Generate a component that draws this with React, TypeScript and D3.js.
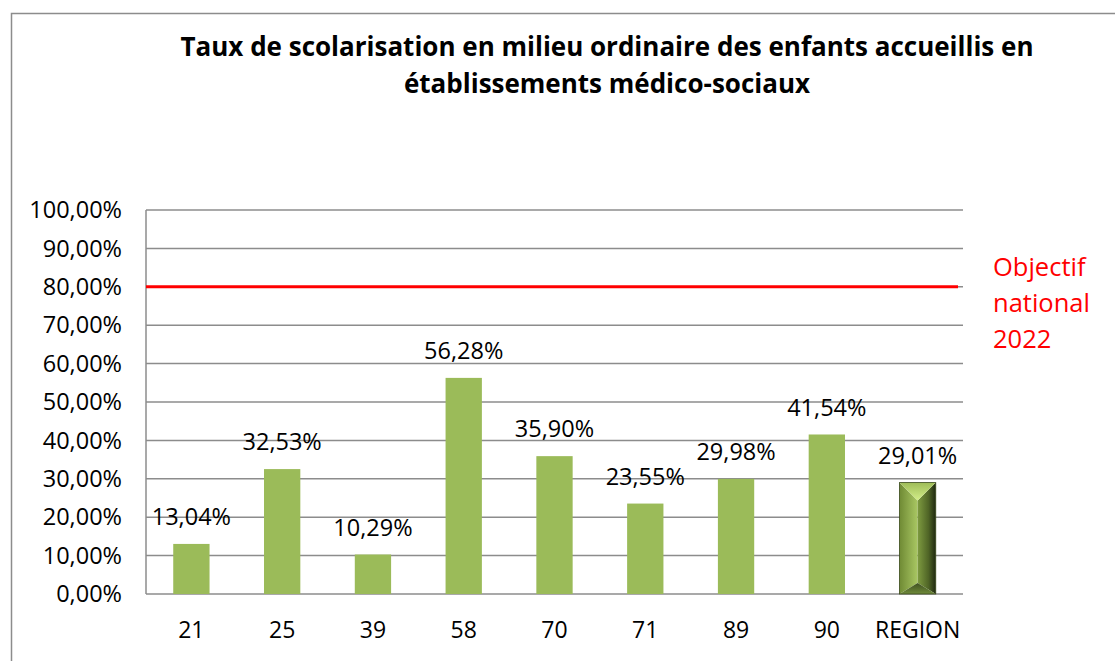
import React from "react";
import * as d3 from "d3";

const categories = ["21", "25", "39", "58", "70", "71", "89", "90", "REGION"];
const values = [0.1304, 0.3253, 0.1029, 0.5628, 0.359, 0.2355, 0.2998, 0.4154, 0.2901];
const yTicks = [0, 0.1, 0.2, 0.3, 0.4, 0.5, 0.6, 0.7, 0.8, 0.9, 1.0];
const objective = 0.8;
const titleLines = [
  "Taux de scolarisation en milieu ordinaire des enfants accueillis en",
  "établissements médico-sociaux",
];
const legendLines = ["Objectif", "national", "2022"];

const W = 1115;
const H = 661;
const FONT = "'Open Sans', 'Liberation Sans', sans-serif";

const fmt = (v: number) => (v * 100).toFixed(2).replace(".", ",") + "%";

export default function App() {
  const x = d3.scaleBand<string>().domain(categories).range([146, 963]).paddingInner(0).paddingOuter(0);
  const y = d3.scaleLinear().domain([0, 1]).range([594, 210]);
  const bw = x.bandwidth() * 0.4;

  return (
    <svg width={W} height={H} style={{ position: "absolute", left: 0, top: 0, background: "#fff" }}>
      <defs>
        <linearGradient id="lface" x1="0" x2="1" y1="0" y2="0">
          <stop offset="0" stopColor="#6f8a34" />
          <stop offset="1" stopColor="#a9c763" />
        </linearGradient>
        <linearGradient id="rface" x1="0" x2="1" y1="0" y2="0">
          <stop offset="0" stopColor="#7e9b40" />
          <stop offset="0.6" stopColor="#4f6426" />
          <stop offset="1" stopColor="#1f2810" />
        </linearGradient>
        <linearGradient id="tface" x1="0" x2="0" y1="0" y2="1">
          <stop offset="0" stopColor="#9fbd58" />
          <stop offset="1" stopColor="#d4ef8a" />
        </linearGradient>
        <linearGradient id="bface" x1="0" x2="0" y1="0" y2="1">
          <stop offset="0" stopColor="#3f5120" />
          <stop offset="1" stopColor="#6f8a3a" />
        </linearGradient>
      </defs>
      <rect x={11.5} y={13.5} width={1200} height={700} fill="#fff" stroke="#8c8c8c" strokeWidth={1.5} />

      {titleLines.map((t, i) => (
        <text
          key={i}
          x={607}
          y={56 + i * 37}
          textAnchor="middle"
          fontFamily={FONT}
          fontWeight="bold"
          fontSize={26}
          fill="#000"
        >
          {t}
        </text>
      ))}

      {/* gridlines */}
      {yTicks.map((t) => (
        <line key={t} x1={146} x2={963} y1={y(t)} y2={y(t)} stroke="#8c8c8c" strokeWidth={1.5} />
      ))}
      <line x1={146} x2={146} y1={y(1)} y2={y(0)} stroke="#8c8c8c" strokeWidth={1.5} />

      {/* y tick labels */}
      {yTicks.map((t) => (
        <text key={t} x={122} y={y(t)} dy="0.35em" textAnchor="end" fontFamily={FONT} fontSize={23.5} fill="#000">
          {fmt(t)}
        </text>
      ))}

      {/* bars */}
      {categories.map((c, i) => {
        const cx = (x(c) as number) + x.bandwidth() / 2;
        const x0 = cx - bw / 2;
        const x1 = cx + bw / 2;
        const top = y(values[i]);
        const bottom = y(0);
        if (c !== "REGION") {
          return <rect key={c} x={x0} y={top} width={bw} height={bottom - top} fill="#9bbb59" />;
        }
        const bt = 18;
        const bb = 11;
        return (
          <g key={c}>
            <polygon points={`${x0},${top} ${cx},${top + bt} ${cx},${bottom - bb} ${x0},${bottom}`} fill="url(#lface)" />
            <polygon points={`${x1},${top} ${cx},${top + bt} ${cx},${bottom - bb} ${x1},${bottom}`} fill="url(#rface)" />
            <polygon points={`${x0},${top} ${x1},${top} ${cx},${top + bt}`} fill="url(#tface)" />
            <polygon points={`${x0},${bottom} ${x1},${bottom} ${cx},${bottom - bb}`} fill="url(#bface)" />
            <rect x={x0} y={top} width={bw} height={bottom - top} fill="none" stroke="#3a4a1c" strokeWidth={0.8} />
          </g>
        );
      })}

      {/* objective line */}
      <line x1={146} x2={958} y1={y(objective)} y2={y(objective)} stroke="#ff0000" strokeWidth={3} />

      {/* data labels */}
      {categories.map((c, i) => (
        <text
          key={c}
          x={(x(c) as number) + x.bandwidth() / 2}
          y={y(values[i]) - 27}
          dy="0.35em"
          textAnchor="middle"
          fontFamily={FONT}
          fontSize={23.5}
          fill="#000"
        >
          {fmt(values[i])}
        </text>
      ))}

      {/* x labels */}
      {categories.map((c) => (
        <text
          key={c}
          x={(x(c) as number) + x.bandwidth() / 2}
          y={630}
          dy="0.35em"
          textAnchor="middle"
          fontFamily={FONT}
          fontSize={23}
          fill="#000"
        >
          {c}
        </text>
      ))}

      {/* legend text */}
      {legendLines.map((l, i) => (
        <text key={l} x={993} y={276 + i * 36} fontFamily={FONT} fontSize={25.5} fill="#ff0000">
          {l}
        </text>
      ))}
    </svg>
  );
}
